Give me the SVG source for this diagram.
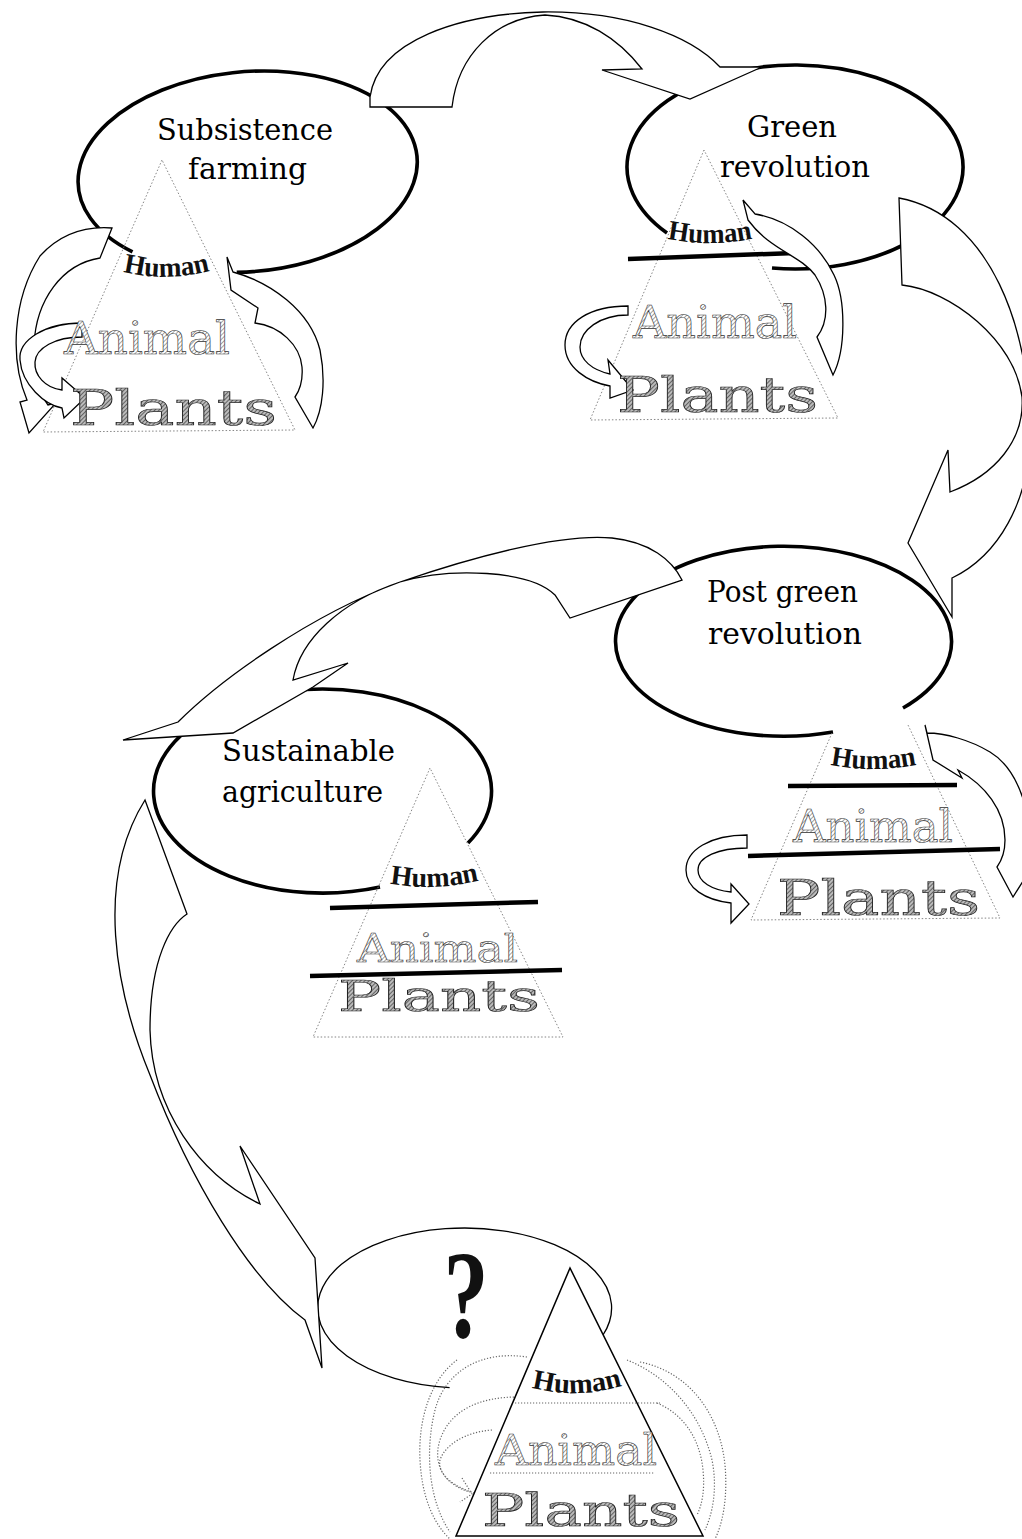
<svg xmlns="http://www.w3.org/2000/svg" width="1022" height="1539" viewBox="0 0 1022 1539">
<style>
.ell{fill:none;stroke:#000;stroke-width:3.6}
.ellt{fill:none;stroke:#000;stroke-width:1.3}
.arr{fill:#fff;stroke:#000;stroke-width:1.3;stroke-linejoin:miter}
.tri{fill:none;stroke:#777;stroke-width:0.9;stroke-dasharray:1.5 2}
.dl{fill:none;stroke:#666;stroke-width:1.2;stroke-dasharray:1.2 1.8}
.sep{stroke:#000;stroke-width:4.5}
.lbl{font-family:"DejaVu Serif",serif;font-size:29px;fill:#000}
.hum{font-family:"Liberation Serif",serif;font-weight:bold;font-size:28px;fill:#111}
.ani{font-family:"DejaVu Serif",serif;font-size:44px;fill:url(#hatchL);stroke:#333;stroke-width:0.6}
.pla{font-family:"DejaVu Serif",serif;font-size:48px;fill:url(#hatchD);stroke:#222;stroke-width:0.7}
</style>
<defs>
<pattern id="hatchL" width="3" height="3" patternUnits="userSpaceOnUse" patternTransform="rotate(45)">
<rect width="3" height="3" fill="#fff"/><line x1="0" y1="0" x2="0" y2="3" stroke="#666" stroke-width="1.2"/>
</pattern>
<pattern id="hatchD" width="3" height="3" patternUnits="userSpaceOnUse" patternTransform="rotate(45)">
<rect width="3" height="3" fill="#bbb"/><line x1="0" y1="0" x2="0" y2="3" stroke="#444" stroke-width="1.5"/>
</pattern>
<path id="h1" d="M120,271 Q166,283 213,270"/>
<path id="h2" d="M664,238 Q710,248 756,238"/>
<path id="h3" d="M827,764 Q873,774 920,764"/>
<path id="h4" d="M387,883 Q433,892 482,880"/>
<path id="h5" d="M529,1387 Q577,1400 625,1385"/>
</defs>
<rect width="1022" height="1539" fill="#fff"/>

<g id="node-subsistence">
<path class="ell" transform="rotate(-5 248 172)" d="M126,241.5 A170,100 0 1 1 228,271"/>
<polyline class="tri" points="162,160 43,432 295,430 162,160"/>
<path class="arr" d="M112,228 L100,258 C62,264 36,300 34,345 C33,372 38,392 48,405 L56,403 L29,433 L20,402 L27,400 C10,360 12,300 40,256 C60,234 85,226 112,228 Z"/>
<path class="arr" d="M82,323 C45,323 18,340 20,360 C22,385 45,405 62,408 L64,418 L85,398 L62,378 L62,390 C45,388 34,375 35,362 C36,348 55,337 82,337 Z"/>
<path class="arr" d="M227,257 L231,290 L258,308 L255,323 C280,326 300,345 302,367 C303,380 300,390 295,397 L313,428 C323,410 326,380 320,350 C310,310 270,282 233,272 Z"/>
<text class="lbl" x="157" y="140" textLength="176" lengthAdjust="spacingAndGlyphs">Subsistence</text>
<text class="lbl" x="188" y="179" textLength="119" lengthAdjust="spacingAndGlyphs">farming</text>
<text class="hum"><textPath href="#h1" startOffset="50%" text-anchor="middle" textLength="88" lengthAdjust="spacingAndGlyphs">Human</textPath></text>
<text class="ani" x="64" y="354" textLength="166" lengthAdjust="spacingAndGlyphs">Animal</text>
<text class="pla" x="70" y="425" textLength="207" lengthAdjust="spacingAndGlyphs">Plants</text>
</g>

<g id="node-green">
<path class="ell" d="M667,233 A168,102 0 1 1 772,268"/>
<polyline class="tri" points="704,150 590,420 838,418 704,150"/>
<line class="sep" x1="628" y1="259" x2="795" y2="253"/>
<path class="arr" d="M628,306 C590,306 565,322 565,345 C565,368 588,382 610,386 L610,398 L633,390 L608,360 L610,374 C592,370 580,360 580,347 C580,330 600,315 628,315 Z"/>
<path class="arr" d="M743,200 L748,220 C770,250 800,255 815,275 C828,295 830,320 817,337 L833,375 C846,350 846,300 834,275 C820,245 790,220 755,214 Z"/>
<text class="lbl" x="747" y="137" textLength="90" lengthAdjust="spacingAndGlyphs">Green</text>
<text class="lbl" x="720" y="177" textLength="150" lengthAdjust="spacingAndGlyphs">revolution</text>
<text class="hum"><textPath href="#h2" startOffset="50%" text-anchor="middle" textLength="86" lengthAdjust="spacingAndGlyphs">Human</textPath></text>
<text class="ani" x="633" y="338" textLength="164" lengthAdjust="spacingAndGlyphs">Animal</text>
<text class="pla" x="617" y="412" textLength="201" lengthAdjust="spacingAndGlyphs">Plants</text>
</g>

<g id="node-post">
<path class="ell" d="M833,732 A168,95 0 1 1 903,708"/>
<polyline class="tri" points="832,733 751,920 1000,918 908,725"/>
<line class="sep" x1="788" y1="786" x2="957" y2="785"/>
<line class="sep" x1="748" y1="856" x2="1000" y2="849"/>
<path class="arr" d="M747,835 C710,835 686,850 686,870 C686,888 705,900 731,903 L731,923 L749,904 L731,884 L731,892 C712,890 698,882 698,870 C698,857 718,848 747,848 Z"/>
<path class="arr" d="M925,725 L933,760 L962,778 L958,770 C985,785 1005,810 1005,840 C1005,852 1002,860 997,867 L1013,897 L1030,870 C1035,820 1020,770 990,752 C970,740 945,733 927,733 Z"/>
<text class="lbl" x="707" y="602" textLength="151" lengthAdjust="spacingAndGlyphs">Post green</text>
<text class="lbl" x="708" y="644" textLength="154" lengthAdjust="spacingAndGlyphs">revolution</text>
<text class="hum"><textPath href="#h3" startOffset="50%" text-anchor="middle" textLength="87" lengthAdjust="spacingAndGlyphs">Human</textPath></text>
<text class="ani" x="793" y="842" textLength="160" lengthAdjust="spacingAndGlyphs">Animal</text>
<text class="pla" x="777" y="915" textLength="203" lengthAdjust="spacingAndGlyphs">Plants</text>
</g>

<g id="node-sustainable">
<path class="ell" d="M380,887 A169,102 0 1 1 468,843"/>
<polyline class="tri" points="430,768 313,1037 563,1037 430,768"/>
<line class="sep" x1="330" y1="908" x2="538" y2="902"/>
<line class="sep" x1="310" y1="976" x2="562" y2="970"/>
<text class="ani" x="357" y="962" textLength="161" lengthAdjust="spacingAndGlyphs" style="font-size:40px">Animal</text>
<text class="pla" x="338" y="1011" textLength="202" lengthAdjust="spacingAndGlyphs" style="font-size:42px">Plants</text>
<text class="lbl" x="222" y="761" textLength="173" lengthAdjust="spacingAndGlyphs">Sustainable</text>
<text class="lbl" x="222" y="802" textLength="161" lengthAdjust="spacingAndGlyphs">agriculture</text>
<text class="hum"><textPath href="#h4" startOffset="50%" text-anchor="middle" textLength="90" lengthAdjust="spacingAndGlyphs">Human</textPath></text>
</g>

<g id="node-unknown">
<path class="ellt" d="M449.6,1387.6 A147,80 0 1 1 603,1335"/>
<path class="dl" d="M527,1357 C480,1350 445,1372 435,1410 C425,1450 428,1500 450,1532"/>
<path class="dl" d="M457,1360 C430,1380 418,1420 420,1460 C422,1500 435,1525 450,1539"/>
<path class="dl" d="M517,1397 C480,1397 450,1410 440,1440 C432,1465 445,1485 470,1492"/>
<path class="dl" d="M492,1430 C465,1432 445,1445 440,1460 C437,1475 455,1488 478,1494"/>
<path class="dl" d="M462,1478 L472,1494 L460,1502"/>
<path class="dl" d="M627,1360 C665,1375 700,1410 712,1460 C718,1490 712,1515 705,1530"/>
<path class="dl" d="M657,1403 C685,1415 700,1440 703,1470 C705,1490 702,1505 697,1515"/>
<path class="dl" d="M640,1362 C690,1372 720,1415 725,1465 C728,1500 722,1525 715,1539"/>
<polygon points="570,1268 456,1536 703,1536" fill="#fff" stroke="#000" stroke-width="1.5"/>
<line class="dl" x1="515" y1="1403" x2="660" y2="1403"/>
<line class="dl" x1="490" y1="1473" x2="655" y2="1473"/>
<text transform="translate(466,1337) scale(0.72,1)" text-anchor="middle" style="font-family:'Liberation Serif',serif;font-weight:bold;font-size:125px;fill:#111">?</text>
<text class="hum"><textPath href="#h5" startOffset="50%" text-anchor="middle" textLength="92" lengthAdjust="spacingAndGlyphs">Human</textPath></text>
<text class="ani" x="495" y="1465" textLength="162" lengthAdjust="spacingAndGlyphs" style="font-size:42px">Animal</text>
<text class="pla" x="482" y="1526" textLength="198" lengthAdjust="spacingAndGlyphs" style="font-size:44px">Plants</text>
</g>

<g id="connectors">
<path class="arr" d="M370,97 L370,107 L452,107 C458,55 495,18 545,15 C585,17 618,38 642,69 L602,70 L690,99 L762,67 L720,67 C690,35 625,11 543,12 C460,14 378,40 370,97 Z"/>
<path class="arr" d="M899,198 L902,285 C950,290 1015,340 1022,397 C1025,440 995,475 950,492 L948,450 L908,543 L952,617 L952,578 C1000,555 1028,500 1030,440 C1032,330 990,215 899,198 Z"/>
<path class="arr" d="M682,580 C672,560 650,542 612,538 C560,533 470,558 400,582 C310,615 220,680 178,722 L123,740 L233,733 L313,687 L348,663 L293,680 C300,640 340,602 400,582 C450,567 530,570 555,595 L570,618 Z"/>
<path class="arr" d="M145,800 L187,914 C170,925 150,960 150,1030 C152,1110 200,1175 260,1204 L240,1146 L315,1258 L322,1368 L305,1320 C250,1280 190,1180 150,1075 C115,990 95,880 145,800 Z"/>
</g>
</svg>
